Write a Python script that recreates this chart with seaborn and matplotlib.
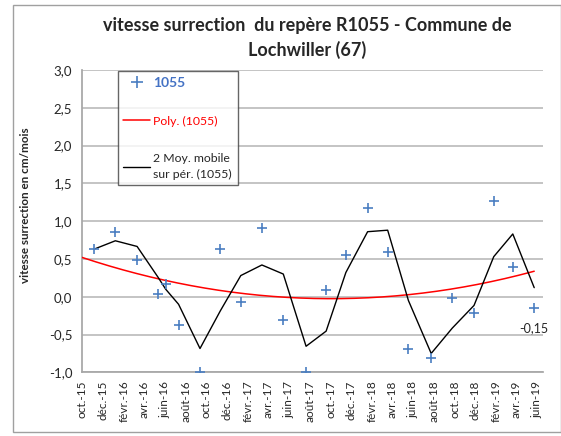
import numpy as np
import pandas as pd
import matplotlib
matplotlib.use("Agg")
import matplotlib.pyplot as plt
from matplotlib.lines import Line2D
from matplotlib.patches import Rectangle
import seaborn as sns

# ---- data ----
dates = ["2015-11-06", "2016-01-07", "2016-03-11", "2016-05-12", "2016-06-03",
         "2016-07-11", "2016-09-12", "2016-11-11", "2017-01-10", "2017-03-13",
         "2017-05-15", "2017-07-21", "2017-09-18", "2017-11-15", "2018-01-18",
         "2018-03-18", "2018-05-18", "2018-07-24", "2018-09-24", "2018-11-27",
         "2019-01-24", "2019-03-21", "2019-05-23"]
values = [0.63, 0.85, 0.48, 0.03, 0.17, -0.37, -1.00, 0.63, -0.07, 0.91,
          -0.31, -1.00, 0.09, 0.55, 1.17, 0.59, -0.69, -0.81, -0.02, -0.21,
          1.27, 0.39, -0.15]
tick_dates = ["2015-10-01", "2015-12-01", "2016-02-01", "2016-04-01", "2016-06-01",
              "2016-08-01", "2016-10-01", "2016-12-01", "2017-02-01", "2017-04-01",
              "2017-06-01", "2017-08-01", "2017-10-01", "2017-12-01", "2018-02-01",
              "2018-04-01", "2018-06-01", "2018-08-01", "2018-10-01", "2018-12-01",
              "2019-02-01", "2019-04-01", "2019-06-01"]
tick_labels = ["oct.-15", "déc.-15", "févr.-16", "avr.-16", "juin-16", "août-16",
               "oct.-16", "déc.-16", "févr.-17", "avr.-17", "juin-17", "août-17",
               "oct.-17", "déc.-17", "févr.-18", "avr.-18", "juin-18", "août-18",
               "oct.-18", "déc.-18", "févr.-19", "avr.-19", "juin-19"]
y_ticks = [-1.0, -0.5, 0.0, 0.5, 1.0, 1.5, 2.0, 2.5, 3.0]
y_tick_labels = ["-1,0", "-0,5", "0,0", "0,5", "1,0", "1,5", "2,0", "2,5", "3,0"]
series_name = "1055"
title_line1 = "vitesse surrection  du repère R1055 - Commune de"
title_line2 = "Lochwiller (67)"
ylabel = "vitesse surrection en cm/mois"
last_label = "-0,15"

# ---- derived ----
df = pd.DataFrame({"date": pd.to_datetime(dates), "v": values})
df["ma"] = df["v"].rolling(2, min_periods=1).mean()
xmin = pd.Timestamp("2015-10-01")
xmax = pd.Timestamp("2019-06-18")
xd = (df["date"] - xmin).dt.days.values.astype(float)
coef = np.polyfit(xd, df["v"].values, 2)
grid_days = np.linspace(0, xd[-1], 200)
poly_df = pd.DataFrame({"date": xmin + pd.to_timedelta(grid_days, unit="D"),
                        "p": np.polyval(coef, grid_days)})

sns.set_theme(style="white")
plt.rcParams["font.family"] = ["Lato", "DejaVu Sans"]

fig = plt.figure(figsize=(5.61, 4.36), dpi=100)
ax = fig.add_axes([0.1462, 0.146, 0.968 - 0.1462, 0.8397 - 0.146])

sns.lineplot(data=poly_df, x="date", y="p", ax=ax, color="#FF0000", lw=1.1, zorder=3)
sns.lineplot(data=df, x="date", y="ma", ax=ax, color="black", lw=1.0, zorder=4)
sns.scatterplot(data=df, x="date", y="v", ax=ax, marker="+", s=45, color="#4A7EC1",
                linewidth=1.2, zorder=5)

ax.set_xlim(xmin, xmax)
ax.set_ylim(-1.0, 3.0)
ax.set_yticks(y_ticks)
ax.set_yticklabels(y_tick_labels, fontsize=9.5)
ax.set_xticks(pd.to_datetime(tick_dates))
ax.set_xticklabels(tick_labels, rotation=90, fontsize=8.5)
ax.tick_params(axis="x", direction="out", length=4, width=0.8, color="#8C8C8C", pad=2)
ax.tick_params(axis="y", direction="out", length=4, width=0.8, color="#8C8C8C", pad=3)
ax.grid(axis="y", color="#BFBFBF", lw=1.3)
ax.set_axisbelow(True)
for s in ["top", "right"]:
    ax.spines[s].set_visible(False)
ax.spines["left"].set_color("#A6A6A6")
ax.spines["bottom"].set_color("#A6A6A6")
ax.set_xlabel("")
ax.set_ylabel(ylabel, fontsize=8.4, fontweight="bold")
ax.yaxis.set_label_coords(-0.111, 0.553)

ax.annotate(last_label, xy=(df["date"].iloc[-1], df["v"].iloc[-1]),
            xytext=(0, -14.5), textcoords="offset points", fontsize=9,
            ha="center", va="center")

fig.text(307 / 561, 1 - 26 / 436, title_line1, fontsize=13, fontweight="bold",
         ha="center", va="center")
fig.text(307 / 561, 1 - 50 / 436, title_line2, fontsize=13, fontweight="bold",
         ha="center", va="center")

handles = [Line2D([], [], marker="+", color="#4A7EC1", ls="none", markersize=8, mew=1.2),
           Line2D([], [], color="#FF0000", lw=1.1),
           Line2D([], [], color="black", lw=1.0)]
labels = [series_name, "Poly. (" + series_name + ")",
          "2 Moy. mobile\nsur pér. (" + series_name + ")"]
leg = ax.legend(handles, labels, loc="upper left", bbox_to_anchor=(0.078, 0.996),
                fontsize=8.8, frameon=True, fancybox=False, edgecolor="#404040",
                labelspacing=2.2, handlelength=2.2, handletextpad=0.25,
                borderpad=0.45, borderaxespad=0)
leg.get_frame().set_linewidth(1.0)
txts = leg.get_texts()
txts[0].set_color("#4472C4")
txts[0].set_fontweight("bold")
txts[0].set_fontsize(10)
txts[1].set_color("#FF0000")
txts[2].set_linespacing(1.45)

fig.patches.append(Rectangle((13 / 561, 1 - 432 / 436), 1 - 13 / 561, (432 - 5) / 436,
                             transform=fig.transFigure, fill=False,
                             edgecolor="#A0A0A0", lw=1.0))

fig.savefig("out.png", dpi=100)
